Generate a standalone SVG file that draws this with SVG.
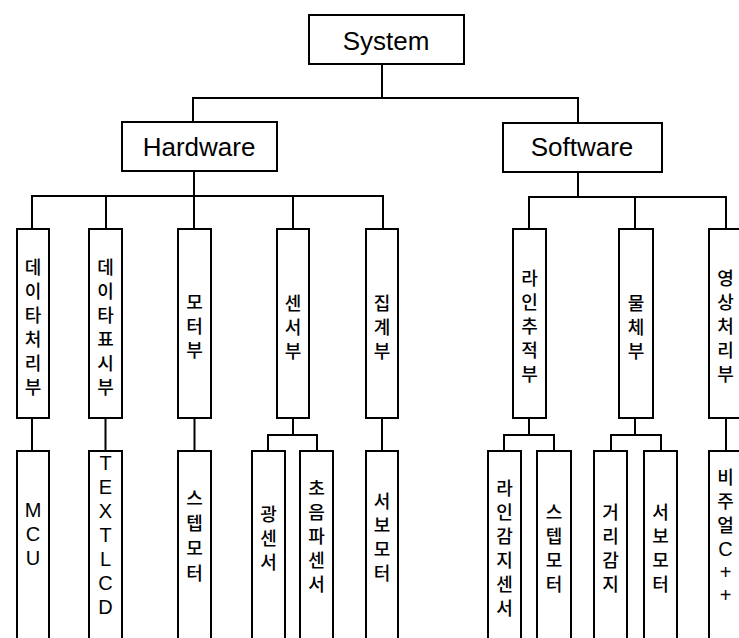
<svg xmlns="http://www.w3.org/2000/svg" width="739" height="638" viewBox="0 0 739 638">
<style>
.box{fill:#fff;stroke:#000;stroke-width:2}
.ln{fill:none;stroke:#000;stroke-width:2}
.t{font-family:"Liberation Sans",Arial,sans-serif;font-size:26px;fill:#000;text-anchor:middle}
.k{font-family:"Noto Sans CJK KR","Liberation Sans",sans-serif;font-size:18px;font-weight:500;fill:#000;text-anchor:middle;dominant-baseline:central}
.l{font-family:"Liberation Sans",Arial,sans-serif;font-size:20px;fill:#000;text-anchor:middle;dominant-baseline:central}
</style>
<rect width="739" height="638" fill="#fff"/>
<g id="connectors">
<path class="ln" d="M382 64V98M193 122V98H578V123"/>
<path class="ln" d="M194 171V196M32 229V196H383V229M106 196V229M194 196V229M293 196V229"/>
<path class="ln" d="M578 172V197M529 229V197H726V229M635 197V229"/>
<path class="ln" d="M32 418V451M105.5 418V451M194.5 418V451M382 418V451M726 418V451"/>
<path class="ln" d="M293 418V435M268 451V435H317V451"/>
<path class="ln" d="M529 418V435M504 451V435H554V451"/>
<path class="ln" d="M635 418V435M611 451V435H661V451"/>
</g>
<g id="system"><rect class="box" x="309" y="15" width="155" height="49"/><text class="t" x="386" y="50">System</text></g>
<g id="hardware"><rect class="box" x="122" y="122" width="155" height="49"/><text class="t" x="199" y="156">Hardware</text></g>
<g id="software"><rect class="box" x="503" y="123" width="159" height="49"/><text class="t" x="582" y="156">Software</text></g>

<g id="n-data-proc"><rect class="box" x="17" y="229" width="32" height="189"/>
<text class="k"><tspan x="33" y="266">데</tspan><tspan x="33" y="290">이</tspan><tspan x="33" y="314">타</tspan><tspan x="33" y="338">처</tspan><tspan x="33" y="362">리</tspan><tspan x="33" y="386">부</tspan></text></g>
<g id="n-data-disp"><rect class="box" x="89" y="229" width="33" height="189"/>
<text class="k"><tspan x="105.5" y="266">데</tspan><tspan x="105.5" y="290">이</tspan><tspan x="105.5" y="314">타</tspan><tspan x="105.5" y="338">표</tspan><tspan x="105.5" y="362">시</tspan><tspan x="105.5" y="386">부</tspan></text></g>
<g id="n-motor"><rect class="box" x="178" y="229" width="33" height="189"/>
<text class="k"><tspan x="194.5" y="301">모</tspan><tspan x="194.5" y="325">터</tspan><tspan x="194.5" y="349">부</tspan></text></g>
<g id="n-sensor"><rect class="box" x="277" y="229" width="32" height="189"/>
<text class="k"><tspan x="293" y="302">센</tspan><tspan x="293" y="326">서</tspan><tspan x="293" y="350">부</tspan></text></g>
<g id="n-collect"><rect class="box" x="366" y="229" width="32" height="189"/>
<text class="k"><tspan x="382" y="302">집</tspan><tspan x="382" y="326">계</tspan><tspan x="382" y="350">부</tspan></text></g>
<g id="n-line"><rect class="box" x="513" y="229" width="33" height="189"/>
<text class="k"><tspan x="529.5" y="277">라</tspan><tspan x="529.5" y="301">인</tspan><tspan x="529.5" y="325">추</tspan><tspan x="529.5" y="349">적</tspan><tspan x="529.5" y="373">부</tspan></text></g>
<g id="n-object"><rect class="box" x="619" y="229" width="34" height="189"/>
<text class="k"><tspan x="636" y="302">물</tspan><tspan x="636" y="326">체</tspan><tspan x="636" y="350">부</tspan></text></g>
<g id="n-image"><rect class="box" x="709" y="229" width="33" height="189"/>
<text class="k"><tspan x="725.5" y="277">영</tspan><tspan x="725.5" y="301">상</tspan><tspan x="725.5" y="325">처</tspan><tspan x="725.5" y="349">리</tspan><tspan x="725.5" y="373">부</tspan></text></g>

<g id="n-mcu"><rect class="box" x="17" y="451" width="32" height="200"/>
<text class="l"><tspan x="33" y="510">M</tspan><tspan x="33" y="534">C</tspan><tspan x="33" y="558">U</tspan></text></g>
<g id="n-lcd"><rect class="box" x="89" y="451" width="33" height="200"/>
<text class="l"><tspan x="105.5" y="463">T</tspan><tspan x="105.5" y="487">E</tspan><tspan x="105.5" y="511">X</tspan><tspan x="105.5" y="535">T</tspan><tspan x="105.5" y="559">L</tspan><tspan x="105.5" y="583">C</tspan><tspan x="105.5" y="607">D</tspan></text></g>
<g id="n-step1"><rect class="box" x="178" y="451" width="33" height="200"/>
<text class="k"><tspan x="194.5" y="497">스</tspan><tspan x="194.5" y="522">텝</tspan><tspan x="194.5" y="547">모</tspan><tspan x="194.5" y="572">터</tspan></text></g>
<g id="n-light"><rect class="box" x="252" y="451" width="33" height="200"/>
<text class="k"><tspan x="268.5" y="513">광</tspan><tspan x="268.5" y="537">센</tspan><tspan x="268.5" y="561">서</tspan></text></g>
<g id="n-ultra"><rect class="box" x="300" y="451" width="33" height="200"/>
<text class="k"><tspan x="316.5" y="487">초</tspan><tspan x="316.5" y="511">음</tspan><tspan x="316.5" y="535">파</tspan><tspan x="316.5" y="559">센</tspan><tspan x="316.5" y="583">서</tspan></text></g>
<g id="n-servo1"><rect class="box" x="366" y="451" width="32" height="200"/>
<text class="k"><tspan x="382" y="500">서</tspan><tspan x="382" y="524">보</tspan><tspan x="382" y="548">모</tspan><tspan x="382" y="572">터</tspan></text></g>
<g id="n-linesense"><rect class="box" x="488" y="451" width="33" height="200"/>
<text class="k"><tspan x="504.5" y="487">라</tspan><tspan x="504.5" y="511">인</tspan><tspan x="504.5" y="535">감</tspan><tspan x="504.5" y="559">지</tspan><tspan x="504.5" y="583">센</tspan><tspan x="504.5" y="607">서</tspan></text></g>
<g id="n-step2"><rect class="box" x="537" y="451" width="34" height="200"/>
<text class="k"><tspan x="554" y="511">스</tspan><tspan x="554" y="535">텝</tspan><tspan x="554" y="559">모</tspan><tspan x="554" y="583">터</tspan></text></g>
<g id="n-dist"><rect class="box" x="594" y="451" width="33" height="200"/>
<text class="k"><tspan x="610.5" y="511">거</tspan><tspan x="610.5" y="535">리</tspan><tspan x="610.5" y="559">감</tspan><tspan x="610.5" y="583">지</tspan></text></g>
<g id="n-servo2"><rect class="box" x="644" y="451" width="33" height="200"/>
<text class="k"><tspan x="660.5" y="511">서</tspan><tspan x="660.5" y="535">보</tspan><tspan x="660.5" y="559">모</tspan><tspan x="660.5" y="583">터</tspan></text></g>
<g id="n-vc"><rect class="box" x="709" y="451" width="33" height="200"/>
<text class="k"><tspan x="725.5" y="476">비</tspan><tspan x="725.5" y="500">주</tspan><tspan x="725.5" y="524">얼</tspan></text>
<text class="l"><tspan x="725.5" y="549">C</tspan><tspan x="725.5" y="572">+</tspan><tspan x="725.5" y="595">+</tspan></text></g>
</svg>
